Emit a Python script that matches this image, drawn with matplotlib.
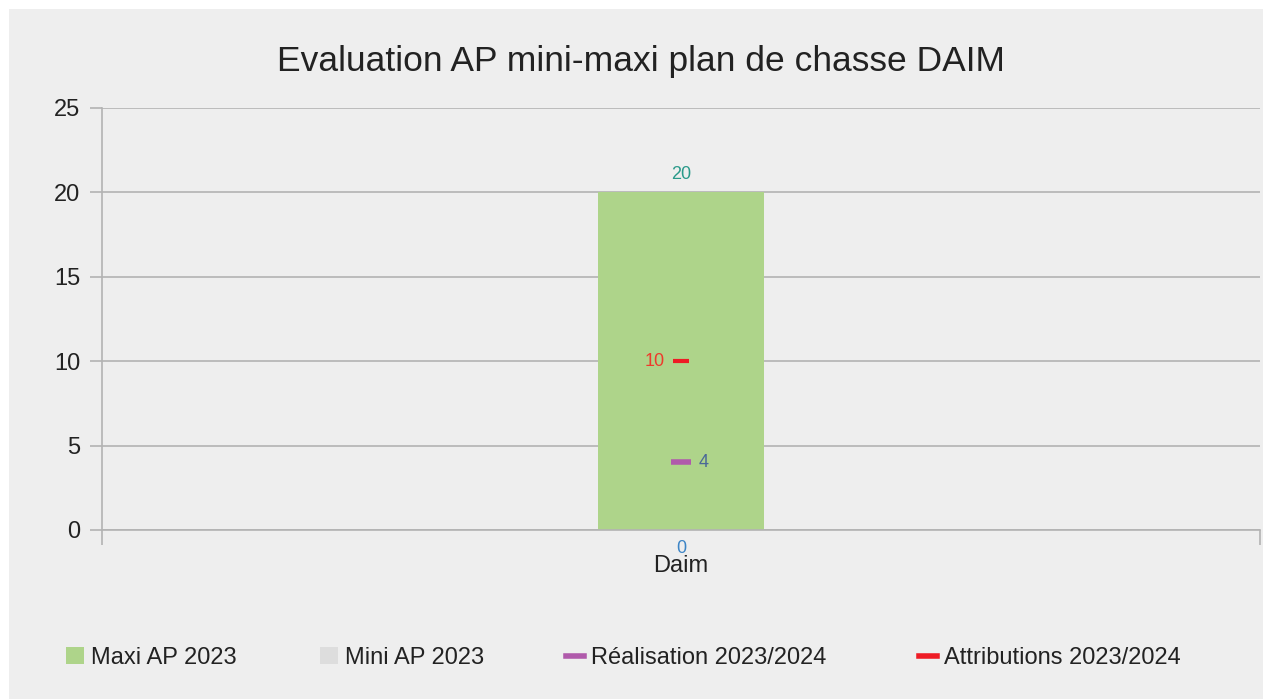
import matplotlib
matplotlib.use("Agg")
import matplotlib.pyplot as plt
from matplotlib.patches import Patch, Rectangle
from matplotlib.lines import Line2D

plt.rcParams['font.family'] = ['Liberation Sans', 'DejaVu Sans']

# data
categories = ['Daim']
maxi_ap = [20]
mini_ap = [0]
realisation = [4]
attributions = [10]

series_names = ['Maxi AP 2023', 'Mini AP 2023', 'Réalisation 2023/2024', 'Attributions 2023/2024']
title = 'Evaluation AP mini-maxi plan de chasse DAIM'

green = '#aed48a'
grey_bar = '#dddddd'
purple = '#b05aab'
red = '#ee1c25'
axis_col = '#b3b3b3'
bg = '#eeeeee'
txt = '#222222'

W, H = 1263, 699
fig = plt.figure(figsize=(W / 100, H / 100), dpi=100, facecolor='white')
# grey panel with thin white border on top/left
fig.patches.append(Rectangle((9 / W, 0), 1, 1 - 9 / H, transform=fig.transFigure,
                             facecolor=bg, edgecolor='none', zorder=-10))

ax = fig.add_axes([102 / W, 169 / H, 1158 / W, 422 / H])
ax.set_facecolor(bg)

x = list(range(len(categories)))
bw = 0.1425
ax.bar(x, maxi_ap, width=bw, color=green, zorder=2)
ax.bar(x, mini_ap, width=bw, color=grey_bar, zorder=3)
ax.plot(x, realisation, linestyle='none', marker='_', ms=15, mew=4, color=purple, zorder=4)
ax.plot(x, attributions, linestyle='none', marker='_', ms=12, mew=3, color=red, zorder=4)

# value labels
for xi, v in zip(x, maxi_ap):
    ax.annotate(str(v), (xi, v), xytext=(0, 13), textcoords='offset points',
                ha='center', va='center', fontsize=13, color='#2a9a8a')
for xi, v in zip(x, mini_ap):
    ax.annotate(str(v), (xi, v), xytext=(0, -13), textcoords='offset points',
                ha='center', va='center', fontsize=13, color='#3d85c6')
for xi, v in zip(x, realisation):
    ax.annotate(str(v), (xi, v), xytext=(16, 0), textcoords='offset points',
                ha='center', va='center', fontsize=13, color='#4a6898')
for xi, v in zip(x, attributions):
    ax.annotate(str(v), (xi, v), xytext=(-19, 0), textcoords='offset points',
                ha='center', va='center', fontsize=13, color='#ee3a2c')

ax.set_xlim(-0.5, len(categories) - 0.5)
ax.set_ylim(0, 25)
ax.set_yticks(range(0, 26, 5))
ax.yaxis.grid(True, color=axis_col, linewidth=1.2, zorder=0)
ax.set_axisbelow(True)

ax.set_xticks([-0.5, len(categories) - 0.5])
ax.set_xticklabels([])
ax.tick_params(axis='x', length=11, width=1.2, color=axis_col, direction='out')
ax.tick_params(axis='y', length=8.5, width=1.2, color=axis_col, direction='out',
               labelsize=17, pad=7, labelcolor=txt)
for xi, c in zip(x, categories):
    ax.annotate(c, (xi, 0), xytext=(0, -26), textcoords='offset points',
                ha='center', va='center', fontsize=17, color=txt,
                annotation_clip=False)

for s in ['top', 'right']:
    ax.spines[s].set_visible(False)
for s in ['left', 'bottom']:
    ax.spines[s].set_color(axis_col)
    ax.spines[s].set_linewidth(1.2)

fig.text(641 / W, 1 - 62 / H, title, ha='center', va='center', fontsize=25.5, color=txt)

# legend entries, one per series, placed along the bottom
handles = [
    Patch(facecolor=green, edgecolor='none'),
    Patch(facecolor=grey_bar, edgecolor='none'),
    Line2D([0], [0], color=purple, lw=4),
    Line2D([0], [0], color=red, lw=4),
]
legend_x = [66, 320, 566, 919]
for h, name, lx in zip(handles, series_names, legend_x):
    fig.legend([h], [name], loc='center left', bbox_to_anchor=(lx / W, 41 / H),
               frameon=False, fontsize=17, handlelength=0.75, handleheight=0.75,
               handletextpad=0.3, borderpad=0, borderaxespad=0, labelcolor=txt)

fig.savefig('out.png', dpi=100, facecolor='white')
